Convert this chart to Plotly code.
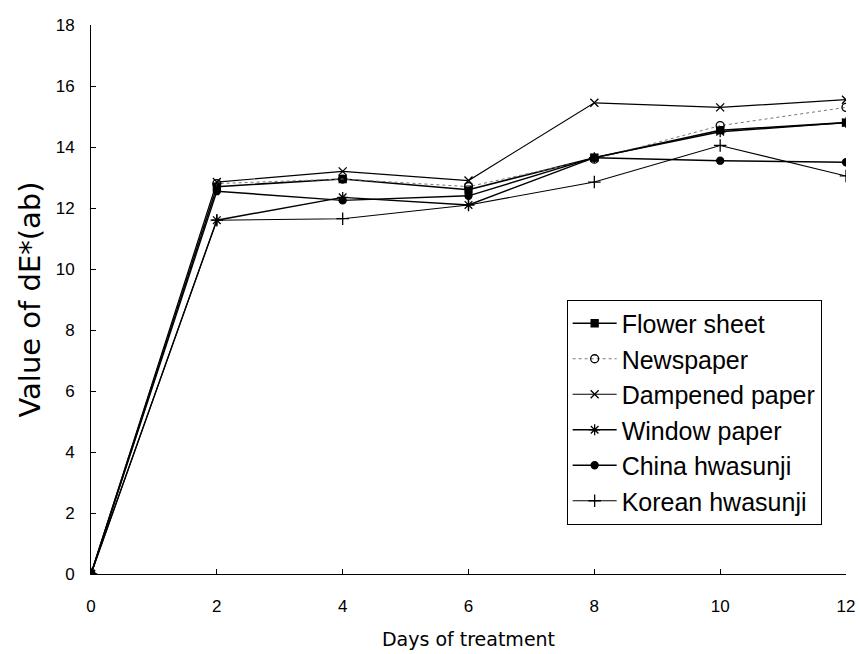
import plotly.graph_objects as go

days = [0, 2, 4, 6, 8, 10, 12]
flower_sheet = [0, 12.7, 12.95, 12.6, 13.65, 14.55, 14.8]
newspaper = [0, 12.8, 12.95, 12.7, 13.6, 14.7, 15.3]
dampened_paper = [0, 12.85, 13.2, 12.9, 15.45, 15.3, 15.55]
window_paper = [0, 11.6, 12.35, 12.1, 13.65, 14.5, 14.8]
china_hwasunji = [0, 12.55, 12.25, 12.4, 13.65, 13.55, 13.5]
korean_hwasunji = [0, 11.6, 11.65, 12.1, 12.85, 14.05, 13.05]

series = [
    ("Flower sheet", flower_sheet, "square", 7, "solid", "black", 1.6),
    ("Newspaper", newspaper, "circle-open", 8, "dot", "#777777", 1.0),
    ("Dampened paper", dampened_paper, "x-thin-open", 8, "solid", "black", 1.2),
    ("Window paper", window_paper, "asterisk-open", 9, "solid", "black", 1.4),
    ("China hwasunji", china_hwasunji, "circle", 7, "solid", "black", 1.4),
    ("Korean hwasunji", korean_hwasunji, "cross-thin-open", 9, "solid", "black", 1.1),
]

fig = go.Figure()
for name, vals, sym, size, dash, color, w in series:
    fig.add_trace(go.Scatter(
        x=days, y=vals, name=name, mode="lines+markers",
        line=dict(color=color, width=w, dash=dash),
        marker=dict(symbol=sym, size=size, color="black",
                    line=dict(color="black", width=1.3)),
    ))

fig.update_layout(
    width=860, height=654,
    margin=dict(l=91, r=14, t=25, b=80),
    paper_bgcolor="white", plot_bgcolor="white",
    font=dict(family="Liberation Sans, Arial, sans-serif", color="black", size=16),
    showlegend=True,
    legend=dict(
        x=0.63, y=0.5, xanchor="left", yanchor="top",
        bordercolor="black", borderwidth=1, bgcolor="white",
        font=dict(size=25, family="Liberation Sans"), tracegroupgap=0, itemwidth=44,
    ),
    xaxis=dict(
        range=[0, 12], tickvals=days, showgrid=False, zeroline=False,
        showline=True, linecolor="black", linewidth=1,
        ticks="inside", ticklen=5, tickcolor="black",
        tickfont=dict(size=17), ticklabelstandoff=17, automargin=False,
        title=dict(text="Days of treatment", font=dict(size=19, family="DejaVu Sans"), standoff=17),
    ),
    yaxis=dict(
        range=[0, 18], tickvals=list(range(0, 19, 2)), showgrid=False, zeroline=False,
        showline=True, linecolor="black", linewidth=1,
        ticks="inside", ticklen=5, tickcolor="black",
        tickfont=dict(size=17), ticklabelstandoff=12, automargin=False,
        title=dict(text="Value of dE*(ab)", font=dict(size=29, family="DejaVu Sans"), standoff=6),
    ),
)

# remove the default 8px body margin so the 860x654 figure fills the window exactly
fig.write_html("out.html", config={"displayModeBar": False},
               post_script="document.body.style.margin='0px';document.body.style.overflow='hidden';")
